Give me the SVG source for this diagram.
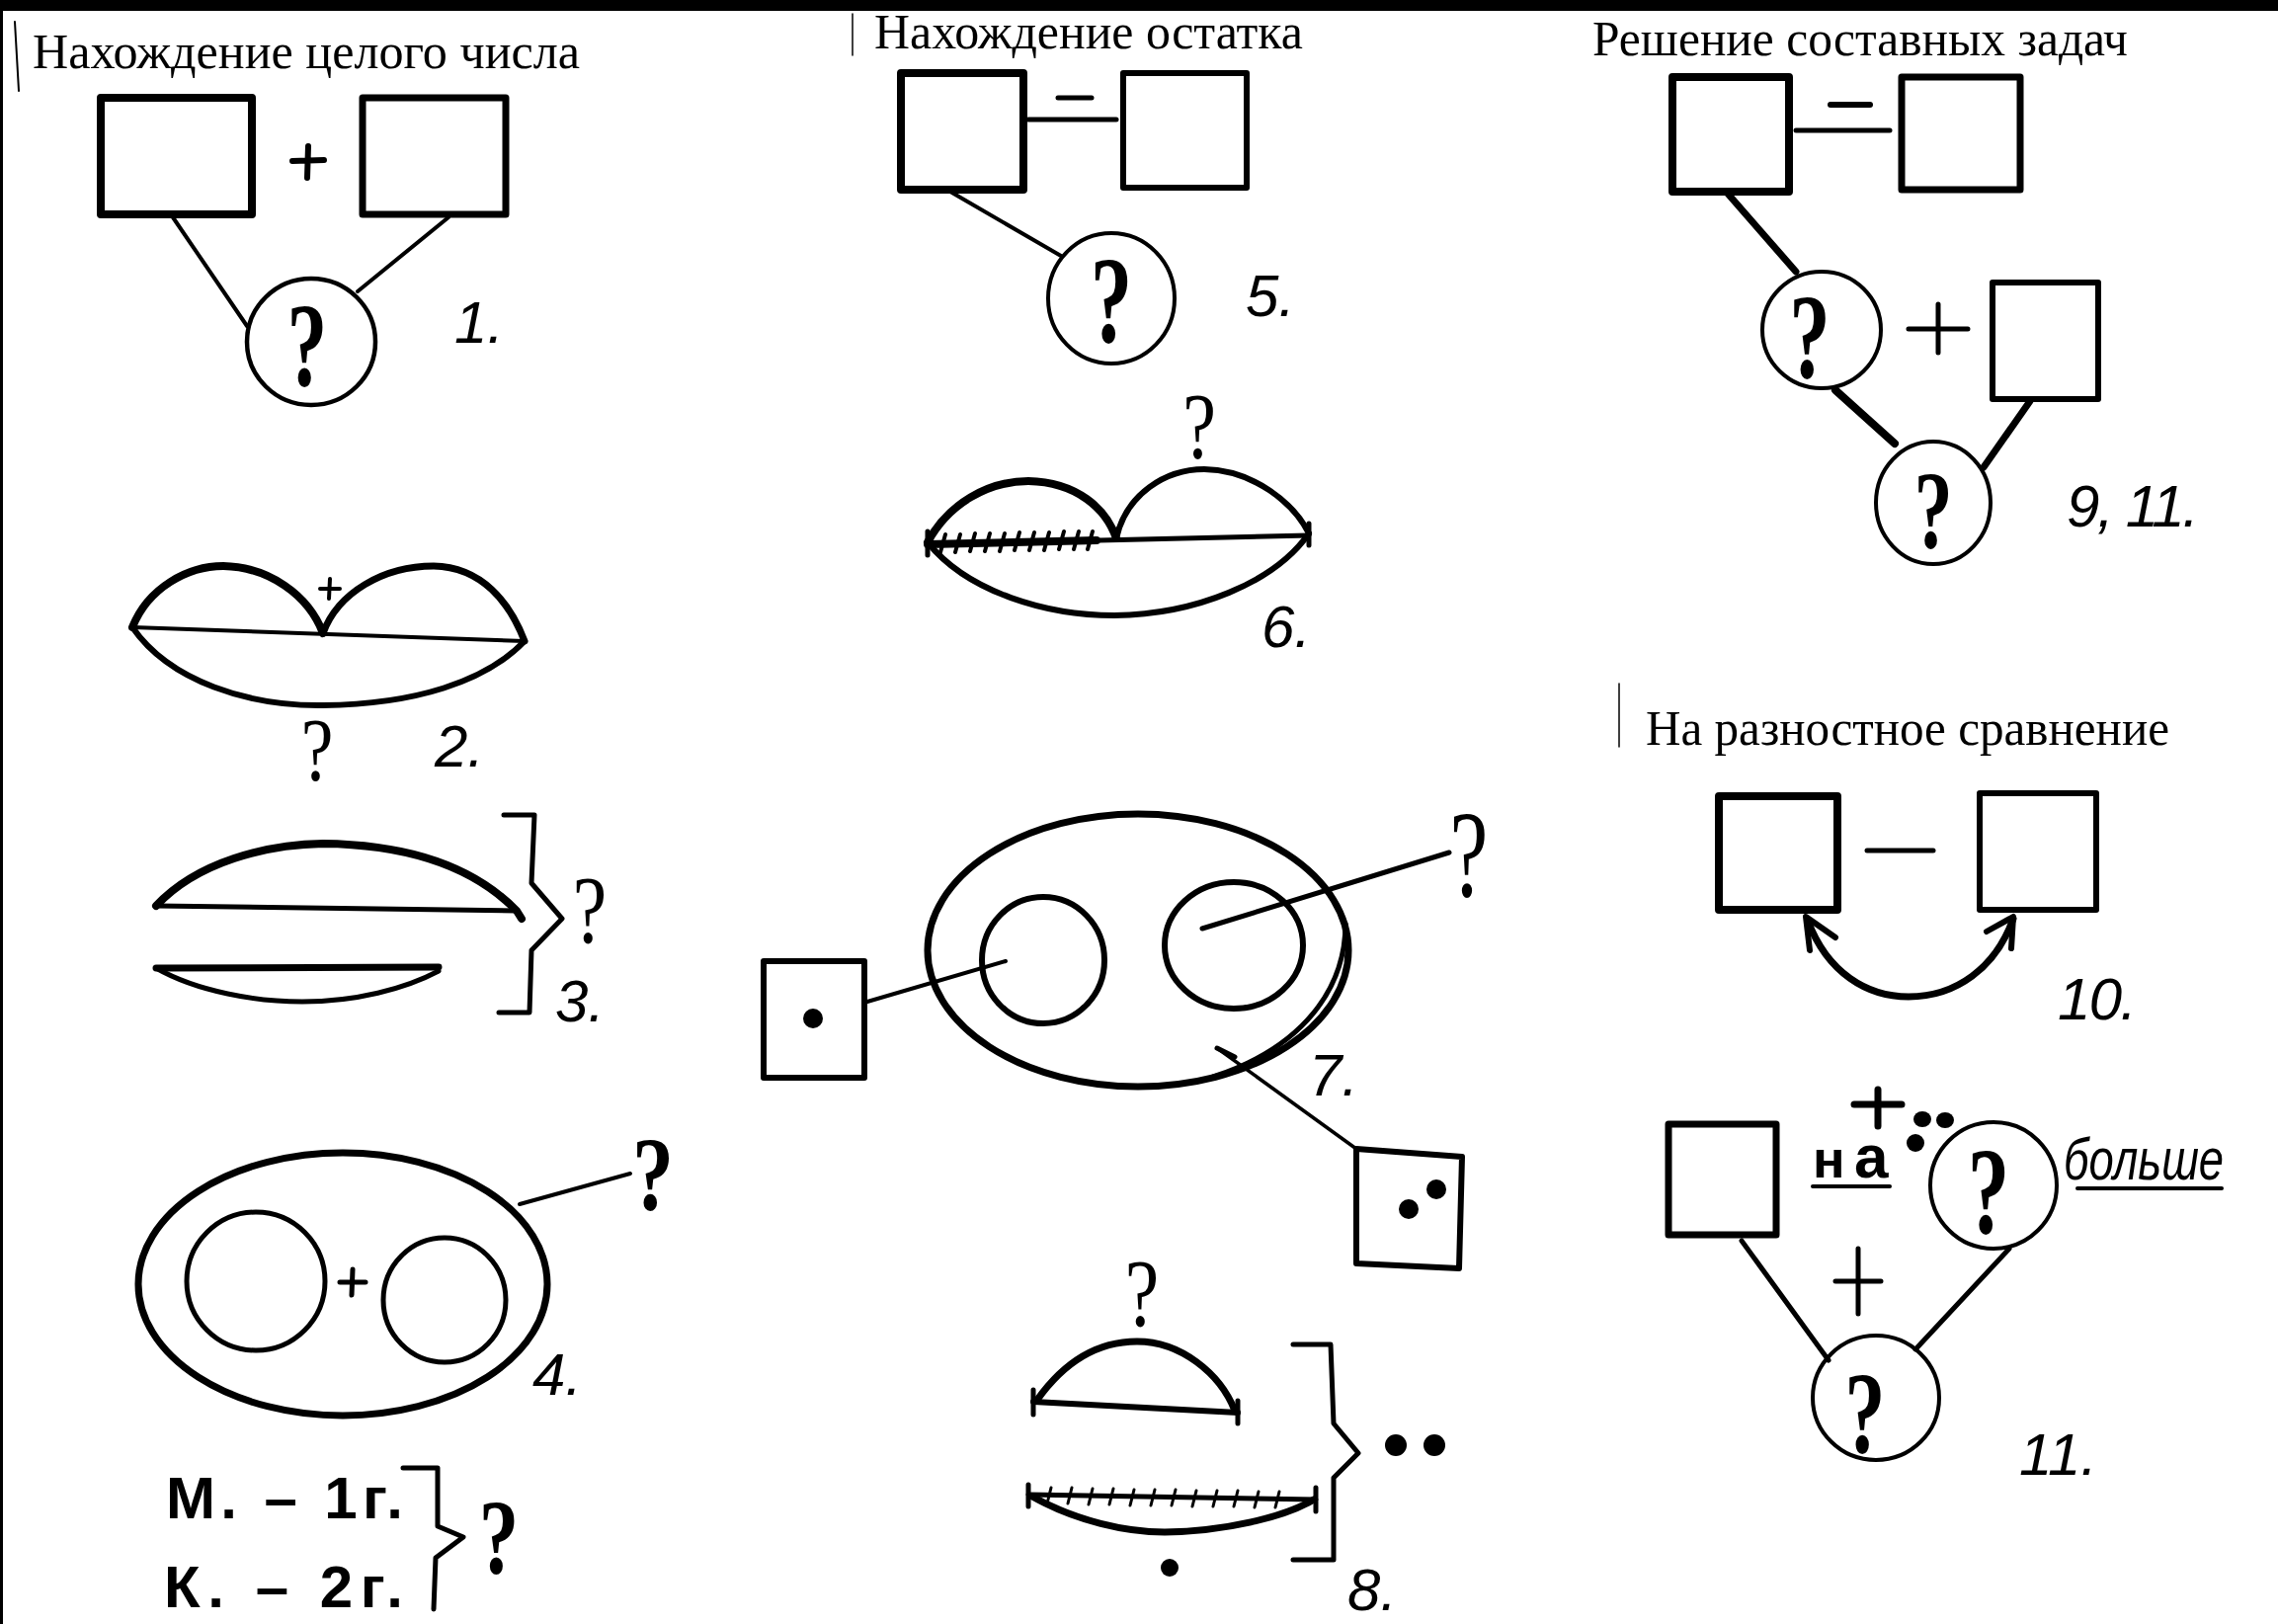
<svg xmlns="http://www.w3.org/2000/svg" width="2306" height="1644" viewBox="0 0 2306 1644">
<style>
.s{fill:none;stroke:#000;stroke-linecap:round;stroke-linejoin:round}
.t{font-family:"Liberation Serif",serif;font-size:50px;fill:#000}
.q{font-family:"Liberation Serif",serif;font-weight:bold;text-anchor:middle;fill:#000}
.qn{font-family:"Liberation Serif",serif;font-weight:normal;text-anchor:middle;fill:#000}
.n{font-family:"Liberation Sans",sans-serif;font-style:italic;font-size:60px;fill:#000}
.h{font-family:"Liberation Sans",sans-serif;font-weight:bold;fill:#000}
.d{fill:#000}
</style>
<rect width="2306" height="1644" fill="#fff"/>
<rect x="0" y="0" width="2306" height="11" fill="#000"/>
<rect x="0" y="0" width="3" height="1644" fill="#000"/>

<g id="titles">
<line class="s" x1="15" y1="22" x2="19" y2="92" stroke-width="2"/>
<text class="t" x="33" y="69" textLength="554" lengthAdjust="spacingAndGlyphs">Нахождение целого числа</text>
<line class="s" x1="863" y1="14" x2="863" y2="56" stroke-width="1.5"/>
<text class="t" x="885" y="49" textLength="434" lengthAdjust="spacingAndGlyphs">Нахождение остатка</text>
<text class="t" x="1612" y="56" textLength="542" lengthAdjust="spacingAndGlyphs">Решение составных задач</text>
<line class="s" x1="1639" y1="692" x2="1639" y2="756" stroke-width="1.5"/>
<text class="t" x="1666" y="754" textLength="530" lengthAdjust="spacingAndGlyphs">На разностное сравнение</text>
</g>

<g id="connectors">
<line class="s" x1="175" y1="220" x2="250" y2="330" stroke-width="4"/>
<line class="s" x1="454" y1="220" x2="362" y2="295" stroke-width="4"/>
<line class="s" x1="962" y1="194" x2="1074" y2="259" stroke-width="4"/>
<line class="s" x1="526" y1="1219" x2="638" y2="1188" stroke-width="4"/>
<line class="s" x1="878" y1="1014" x2="1018" y2="973" stroke-width="4"/>
<line class="s" x1="1217" y1="940" x2="1467" y2="863" stroke-width="5"/>
<line class="s" x1="1232" y1="1061" x2="1373" y2="1163" stroke-width="3.5"/>
<line class="s" x1="1749" y1="196" x2="1818" y2="275" stroke-width="7"/>
<line class="s" x1="1858" y1="395" x2="1918" y2="449" stroke-width="8"/>
<line class="s" x1="2055" y1="406" x2="2008" y2="473" stroke-width="7"/>
<line class="s" x1="1763" y1="1256" x2="1851" y2="1377" stroke-width="5"/>
<line class="s" x1="2034" y1="1264" x2="1939" y2="1366" stroke-width="5"/>
</g>

<g id="n1">
<rect class="s" x="102" y="99" width="153" height="118" stroke-width="8"/>
<rect class="s" x="367" y="99" width="145" height="118" stroke-width="7"/>
<path class="s" d="M296,163 L328,162 M312,148 L311,180" stroke-width="6"/>
<ellipse class="s" cx="315" cy="346" rx="65" ry="64" stroke-width="4.5"/>
<text class="q" font-size="120" transform="translate(311,390) scale(0.68,1)">?</text>
<text class="n" x="460" y="347">1.</text>
</g>

<g id="n2">
<path class="s" d="M134,635 L531,649" stroke-width="4"/>
<path class="s" d="M134,635 C150,595 190,573 226,573 C272,574 312,602 327,641" stroke-width="8"/>
<path class="s" d="M327,641 C342,600 388,573 439,573 C488,574 516,610 531,649" stroke-width="7"/>
<path class="s" d="M134,635 C172,690 252,715 327,714 C420,713 492,690 531,649" stroke-width="6"/>
<path class="s" d="M324,596 L344,596 M334,586 L333,606" stroke-width="4"/>
<text class="qn" font-size="92" transform="translate(321,790) scale(0.8,1)">?</text>
<text class="n" x="440" y="776">2.</text>
</g>

<g id="n3">
<path class="s" d="M158,917 L523,922" stroke-width="5"/>
<path class="s" d="M158,917 C200,872 270,855 327,854 C420,855 482,880 523,922 L528,930" stroke-width="8"/>
<path class="s" d="M158,980 L444,979" stroke-width="7"/>
<path class="s" d="M158,980 C200,1004 260,1014 306,1014 C360,1014 410,1001 444,983" stroke-width="5"/>
<path class="s" d="M510,825 L541,825 L538,894 L569,930 L538,962 L536,1025 L505,1025" stroke-width="5"/>
<text class="qn" font-size="97" transform="translate(597,954) scale(0.8,1)">?</text>
<text class="n" x="562" y="1034">3.</text>
</g>

<g id="n4">
<ellipse class="s" cx="347" cy="1300" rx="207" ry="133" stroke-width="7"/>
<circle class="s" cx="259" cy="1297" r="70" stroke-width="5"/>
<ellipse class="s" cx="450" cy="1316" rx="62" ry="63" stroke-width="5"/>
<path class="s" d="M344,1298 L370,1298 M357,1285 L356,1311" stroke-width="5"/>
<text class="q" font-size="105" transform="translate(661,1225) scale(0.8,1)">?</text>
<text class="n" x="539" y="1412">4.</text>
</g>

<g id="n4b">
<text class="h" x="168" y="1537" font-size="60" textLength="240" lengthAdjust="spacing">М. – 1г.</text>
<text class="h" x="166" y="1627" font-size="60" textLength="242" lengthAdjust="spacing">К. – 2г.</text>
<path class="s" d="M408,1486 L443,1486 L443,1545 L469,1556 L441,1577 L439,1629" stroke-width="5"/>
<text class="q" font-size="108" transform="translate(505,1592) scale(0.75,1)">?</text>
</g>

<g id="n5">
<rect class="s" x="912" y="74" width="124" height="118" stroke-width="8"/>
<rect class="s" x="1137" y="74" width="125" height="116" stroke-width="6"/>
<path class="s" d="M1041,121 L1130,121" stroke-width="5"/>
<path class="s" d="M1071,99 L1105,99" stroke-width="5"/>
<ellipse class="s" cx="1125" cy="302" rx="64" ry="66" stroke-width="4"/>
<text class="q" font-size="125" transform="translate(1125,346) scale(0.68,1)">?</text>
<text class="n" x="1261" y="320">5.</text>
</g>

<g id="n6">
<path class="s" d="M939,551 L1325,542" stroke-width="5"/>
<path class="s" d="M939,551 L1110,547" stroke-width="8"/>
<path class="s" d="M939,549 C960,510 1000,487 1041,487 C1090,488 1120,515 1130,545" stroke-width="8"/>
<path class="s" d="M1130,545 C1140,500 1180,475 1219,475 C1270,476 1310,510 1325,540" stroke-width="6"/>
<path class="s" d="M939,549 C980,600 1060,623 1128,623 C1210,622 1290,590 1325,540" stroke-width="6"/>
<path class="s" d="M939,538 L939,562 M1325,530 L1325,552" stroke-width="5"/>
<path class="s" d="M952,559 L957,541 M967,559 L972,541 M982,558 L987,540 M997,558 L1002,540 M1012,558 L1017,540 M1027,557 L1032,539 M1042,557 L1047,539 M1057,557 L1062,539 M1072,556 L1077,538 M1087,556 L1092,538 M1101,556 L1106,538" stroke-width="4"/>
<text class="qn" font-size="95" transform="translate(1214,464) scale(0.8,1)">?</text>
<text class="n" x="1277" y="655">6.</text>
</g>

<g id="n7">
<ellipse class="s" cx="1152" cy="962" rx="213" ry="138" stroke-width="7"/>
<path class="s" d="M1362,935 C1362,1000 1320,1060 1228,1090" stroke-width="5"/>
<ellipse class="s" cx="1056" cy="972" rx="62" ry="64" stroke-width="6"/>
<ellipse class="s" cx="1249" cy="957" rx="70" ry="64" stroke-width="6"/>
<rect class="s" x="773" y="973" width="102" height="118" stroke-width="6"/>
<circle class="d" cx="823" cy="1031" r="10"/>
<path class="s" d="M1232,1061 L1250,1070" stroke-width="5"/>
<polygon class="s" points="1373,1163 1480,1171 1477,1284 1373,1279" stroke-width="6"/>
<circle class="d" cx="1426" cy="1224" r="10"/>
<circle class="d" cx="1454" cy="1204" r="10"/>
<text class="qn" font-size="125" transform="translate(1487,907) scale(0.7,1)">?</text>
<text class="n" x="1325" y="1109">7.</text>
</g>

<g id="n8">
<path class="s" d="M1046,1419 L1253,1430" stroke-width="6"/>
<path class="s" d="M1050,1417 C1080,1375 1115,1358 1151,1358 C1195,1358 1235,1390 1250,1428" stroke-width="7"/>
<path class="s" d="M1046,1407 L1046,1432 M1253,1418 L1253,1441" stroke-width="5"/>
<text class="qn" font-size="97" transform="translate(1156,1342) scale(0.8,1)">?</text>
<path class="s" d="M1041,1513 L1332,1518" stroke-width="5"/>
<path class="s" d="M1045,1515 C1090,1540 1140,1551 1179,1551 C1240,1550 1300,1536 1330,1518" stroke-width="7"/>
<path class="s" d="M1041,1503 L1041,1525 M1332,1506 L1332,1530" stroke-width="5"/>
<path class="s" d="M1060,1522 L1064,1506 M1081,1522 L1085,1506 M1102,1523 L1106,1507 M1123,1523 L1127,1507 M1144,1524 L1148,1508 M1165,1524 L1169,1508 M1186,1524 L1190,1508 M1207,1525 L1211,1509 M1228,1525 L1232,1509 M1249,1525 L1253,1509 M1270,1526 L1274,1510 M1291,1526 L1295,1510" stroke-width="3"/>
<circle class="d" cx="1184" cy="1587" r="9"/>
<path class="s" d="M1309,1361 L1347,1361 L1350,1441 L1375,1471 L1350,1496 L1350,1579 L1309,1579" stroke-width="5"/>
<circle class="d" cx="1413" cy="1463" r="11"/>
<circle class="d" cx="1452" cy="1463" r="11"/>
<text class="n" x="1364" y="1630">8.</text>
</g>

<g id="n9">
<rect class="s" x="1693" y="78" width="118" height="116" stroke-width="8"/>
<rect class="s" x="1925" y="78" width="120" height="114" stroke-width="7"/>
<path class="s" d="M1818,132 L1913,132" stroke-width="5"/>
<path class="s" d="M1853,106 L1893,106" stroke-width="6"/>
<ellipse class="s" cx="1844" cy="334" rx="60" ry="59" stroke-width="4"/>
<text class="q" font-size="122" transform="translate(1832,382) scale(0.68,1)">?</text>
<path class="s" d="M1932,333 L1992,333 M1962,308 L1962,357" stroke-width="5"/>
<rect class="s" x="2017" y="286" width="107" height="118" stroke-width="6"/>
<ellipse class="s" cx="1957" cy="509" rx="58" ry="62" stroke-width="4"/>
<text class="q" font-size="112" transform="translate(1957,554) scale(0.7,1)">?</text>
<text class="n" x="2092" y="533" textLength="134" lengthAdjust="spacing">9, 11.</text>
</g>

<g id="n10">
<rect class="s" x="1740" y="806" width="120" height="115" stroke-width="8"/>
<rect class="s" x="2004" y="803" width="118" height="118" stroke-width="6"/>
<path class="s" d="M1890,861 L1957,861" stroke-width="5"/>
<path class="s" d="M1830,932 C1850,985 1890,1009 1932,1009 C1980,1009 2020,980 2038,930" stroke-width="7"/>
<path class="s" d="M1832,962 L1828,928 L1858,949" stroke-width="6"/>
<path class="s" d="M2011,943 L2038,928 L2036,960" stroke-width="6"/>
<text class="n" x="2083" y="1032" textLength="80" lengthAdjust="spacing">10.</text>
</g>

<g id="n11">
<rect class="s" x="1689" y="1138" width="109" height="112" stroke-width="7"/>
<text class="h" x="1835" y="1192" font-size="54">н</text>
<text class="h" x="1877" y="1192" font-size="62">а</text>
<path class="s" d="M1835,1201 L1913,1201" stroke-width="4"/>
<path class="s" d="M1877,1118 L1925,1118 M1901,1103 L1901,1140" stroke-width="7"/>
<ellipse class="d" cx="1946" cy="1133" rx="9" ry="8"/>
<ellipse class="d" cx="1969" cy="1134" rx="9" ry="8"/>
<ellipse class="d" cx="1939" cy="1157" rx="9" ry="9"/>
<ellipse class="s" cx="2018" cy="1200" rx="64" ry="64" stroke-width="4"/>
<text class="q" font-size="125" transform="translate(2013,1248) scale(0.68,1)">?</text>
<text class="n" x="2089" y="1194" font-size="66" textLength="162" lengthAdjust="spacingAndGlyphs">больше</text>
<path class="s" d="M2103,1203 L2249,1203" stroke-width="4"/>
<path class="s" d="M1858,1297 L1904,1297 M1881,1264 L1881,1330" stroke-width="5"/>
<ellipse class="s" cx="1899" cy="1415" rx="64" ry="63" stroke-width="4"/>
<text class="q" font-size="118" transform="translate(1888,1470) scale(0.7,1)">?</text>
<text class="n" x="2044" y="1493">11.</text>
</g>
</svg>
